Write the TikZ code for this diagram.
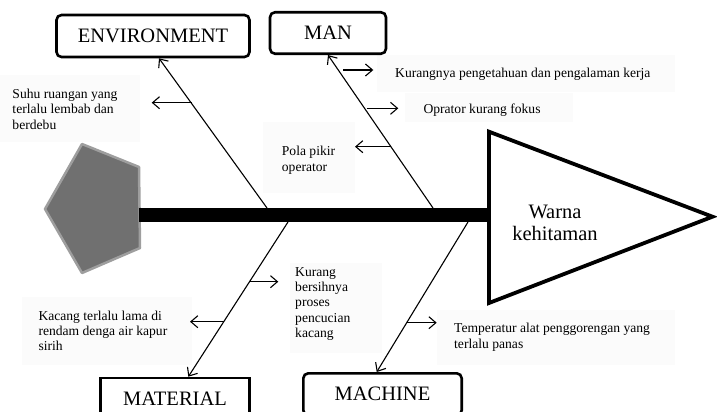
\documentclass[tikz,border=0pt]{standalone}
\usepackage{fontspec}
\setmainfont{Liberation Serif}
\usetikzlibrary{arrows.meta}
\tikzset{bone/.style={line width=1.1pt, -{Straight Barb[length=7pt,width=12pt,line width=1.1pt]}},
 cat/.style={draw, line width=2.6pt, rounded corners=5pt, minimum height=42pt, inner sep=0pt, font=\fontsize{20.5}{24}\selectfont},
 cause/.style={anchor=base west, align=left, inner sep=0pt, font=\fontsize{13.6}{15.4}\selectfont}}

\begin{document}
\begin{tikzpicture}[x=1pt,y=-1pt]
  \useasboundingbox (0,0) rectangle (717,412);
  \foreach \xa/\ya/\xb/\yb in {0/75/140/142, 376.7/55/675/91.7, 405/93/573/121.7, 263/121.7/355/193,
      21.7/296.7/191.7/365, 290/263/381.7/353, 436.7/310/675/365}
    \fill[black!1.5] (\xa,\ya) rectangle (\xb,\yb);
  % tail and head
  \filldraw[fill=black!56, draw=black!38, line width=2.5pt, line join=round]
    (82,144) -- (139,167) -- (140,248) -- (82,273) -- (45,209) -- cycle;
  \coordinate (tail) at (139,215);
  \coordinate (headbase) at (489,215);
  \draw[line width=13.5pt] (tail) -- (headbase);
  \draw[line width=3.8pt, line join=miter] (489,131.7) -- (712.5,216.7) -- (489,303) -- cycle;
  \node[inner sep=0pt, align=center, font=\fontsize{20.5}{22}\selectfont] (effect) at (555,223) {Warna\\kehitaman};
  % categories
  \node[cat, minimum width=193pt] (env) at (153,36) {ENVIRONMENT};
  \node[cat, minimum width=116pt, minimum height=41.5pt] (man) at (328,33) {MAN};
  \node[cat, sharp corners, minimum width=149.5pt] (mat) at (175,399) {MATERIAL};
  \node[cat, minimum width=158.4pt] (mach) at (382.5,394.3) {MACHINE};
  \coordinate (envroot) at (267,208);
  \coordinate (manroot) at (433,208);
  \coordinate (matroot) at (288,222);
  \coordinate (machroot) at (468,222);
  \draw[bone] (envroot) -- ([xshift=6pt]env.south);
  \draw[bone] (manroot) -- (man.south);
  \draw[bone] (matroot) -- ([xshift=13.3pt]mat.north);
  \draw[bone] (machroot) -- ([xshift=-5.8pt]mach.north);
  % causes (y of a multi-line node = baseline of its last line)
  \foreach \name/\xa/\xb/\y in {e1/191.5/151.7/102.7, m1/343/373.3/70, m2/366.7/398.3/108.3, m3/390.5/355/146.7,
      t1/249.5/278.3/281.7, t2/223.8/190/321.7, c1/406.6/436.7/322.7} {
    \coordinate (\name a) at (\xa,\y);
    \coordinate (\name b) at (\xb,\y);
    \draw[bone] (\name a) -- (\name b);
  }
  \node[cause] (suhu) at (12.3,129.3) {Suhu ruangan yang\\terlalu lembab dan\\berdebu};
  \node[cause] (kurangnya) at (395,77.3) {Kurangnya pengetahuan dan pengalaman kerja};
  \node[cause] (fokus) at (423.3,113) {Oprator kurang fokus};
  \node[cause] (pola) at (281.7,171) {Pola pikir\\operator};
  \node[cause] (bersih) at (295,337.6) {Kurang\\bersihnya\\proses\\pencucian\\kacang};
  \node[cause] (rendam) at (38.3,350.8) {Kacang terlalu lama di\\rendam denga air kapur\\sirih};
  \node[cause] (suhualat) at (454,348.1) {Temperatur alat penggorengan yang\\terlalu panas};
\end{tikzpicture}
\end{document}
